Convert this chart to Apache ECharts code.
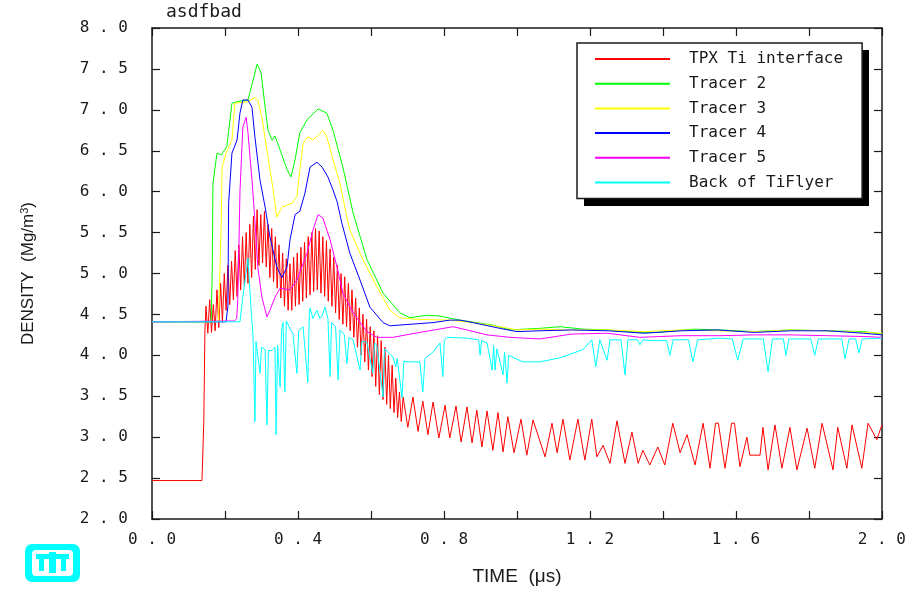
<!DOCTYPE html>
<html><head><meta charset="utf-8">
<script src="https://cdn.jsdelivr.net/npm/echarts@6/dist/echarts.min.js"></script>
<style>html,body{margin:0;padding:0;background:#fff}#c{width:909px;height:592px}</style>
</head><body><div id="c"></div>
<script>
// ---- data (time in microseconds, density in Mg/m^3) ----
const seriesNames = ['TPX Ti interface', 'Tracer 2', 'Tracer 3', 'Tracer 4', 'Tracer 5', 'Back of TiFlyer'];
const seriesColors = ['#ff0000', '#00ff00', '#ffff00', '#0000ff', '#ff00ff', '#00ffff'];

const tpxTi = [[0,2.47],[0.137,2.47],[0.142,3.2],[0.145,4.3],
[0.148,4.6],[0.153,4.27],[0.158,4.68],[0.163,4.28],[0.168,4.62],[0.173,4.3],[0.178,4.8],[0.183,4.34],[0.188,4.88],[0.193,4.4],
[0.198,5.0],[0.203,4.55],[0.208,5.1],[0.213,4.62],[0.218,5.15],[0.223,4.68],[0.228,5.28],[0.233,4.72],[0.238,5.35],[0.243,4.8],
[0.248,5.45],[0.253,4.85],[0.258,5.5],[0.263,4.88],[0.268,5.6],[0.273,4.95],[0.278,5.7],[0.283,5.05],[0.288,5.78],[0.293,5.1],
[0.298,5.72],[0.303,5.13],[0.308,5.76],[0.313,5.08],[0.318,5.6],[0.323,4.95],[0.328,5.55],[0.333,4.9],[0.338,5.45],[0.343,4.82],
[0.348,5.35],[0.353,4.7],[0.358,5.25],[0.363,4.6],[0.368,5.18],[0.373,4.55],[0.378,5.12],[0.383,4.55],[0.388,5.2],[0.393,4.6],
[0.398,5.25],[0.403,4.62],[0.408,5.32],[0.413,4.66],[0.418,5.38],[0.423,4.7],[0.428,5.45],[0.433,4.74],[0.438,5.5],[0.443,4.78],
[0.448,5.55],[0.453,4.8],[0.458,5.52],[0.463,4.76],[0.468,5.45],[0.473,4.72],[0.478,5.4],[0.483,4.66],[0.488,5.3],[0.493,4.6],
[0.498,5.2],[0.503,4.52],[0.508,5.1],[0.513,4.44],[0.518,5.0],[0.523,4.38],[0.528,4.96],[0.533,4.35],[0.538,4.88],[0.543,4.3],
[0.548,4.8],[0.553,4.22],[0.558,4.7],[0.563,4.1],[0.568,4.58],[0.573,4.0],[0.578,4.5],[0.583,3.92],[0.588,4.44],[0.593,3.82],
[0.598,4.35],[0.603,3.74],[0.608,4.3],[0.613,3.62],[0.618,4.24],[0.623,3.52],[0.628,4.18],[0.633,3.46],[0.638,4.1],[0.643,3.4],
[0.648,4.0],[0.653,3.35],[0.658,3.88],[0.663,3.3],[0.668,3.72],[0.673,3.24],[0.678,3.55],[0.683,3.19],
[0.688,3.49],[0.701,3.12],[0.715,3.49],[0.729,3.07],[0.742,3.44],[0.756,3.03],[0.770,3.43],[0.786,2.99],[0.803,3.39],[0.816,2.99],
[0.833,3.38],[0.847,2.94],[0.863,3.37],[0.877,2.93],[0.890,3.33],[0.904,2.88],[0.918,3.32],[0.934,2.84],[0.948,3.30],[0.962,2.82],
[0.975,3.25],[0.992,2.81],[1.011,3.22],[1.027,2.78],[1.044,3.21],[1.077,2.76],[1.096,3.17],[1.110,2.81],[1.126,3.22],[1.145,2.72],
[1.167,3.22],[1.186,2.72],[1.205,3.22],[1.219,2.76],[1.236,2.90],[1.255,2.68],[1.274,3.20],[1.296,2.68],[1.315,3.06],[1.332,2.68],
[1.345,2.84],[1.364,2.66],[1.386,2.88],[1.405,2.66],[1.427,3.17],[1.447,2.81],[1.466,3.03],[1.488,2.66],[1.510,3.17],[1.529,2.62],
[1.544,3.17],[1.552,3.17],[1.570,2.62],[1.588,3.17],[1.596,3.17],[1.611,2.64],[1.630,3.0],[1.638,2.78],[1.666,2.78],[1.674,3.12],
[1.688,2.60],[1.707,3.15],[1.726,2.62],[1.748,3.12],[1.767,2.60],[1.795,3.11],[1.816,2.62],[1.836,3.17],[1.866,2.60],[1.879,3.12],
[1.904,2.62],[1.918,3.15],[1.945,2.62],[1.962,3.17],[1.986,2.97],[2.0,3.15]];

const tracer2 = [[0,4.41],[0.162,4.41],[0.165,5.0],[0.167,6.1],[0.178,6.47],[0.19,6.45],[0.205,6.55],[0.219,7.08],[0.233,7.1],
[0.263,7.12],[0.277,7.36],[0.288,7.56],[0.299,7.45],[0.310,7.03],[0.318,6.75],[0.329,6.63],[0.337,6.68],[0.351,6.51],[0.370,6.27],
[0.381,6.18],[0.392,6.39],[0.405,6.72],[0.425,6.88],[0.455,7.01],[0.479,6.96],[0.496,6.75],[0.523,6.30],[0.551,5.74],[0.589,5.17],
[0.633,4.76],[0.679,4.52],[0.707,4.46],[0.753,4.49],[0.789,4.48],[0.844,4.43],[0.934,4.37],[0.981,4.31],[1.063,4.33],[1.118,4.35],
[1.181,4.32],[1.25,4.31],[1.337,4.28],[1.384,4.28],[1.482,4.32],[1.556,4.31],[1.65,4.29],[1.75,4.31],[1.85,4.30],[1.95,4.29],[2.0,4.26]];

const tracer3 = [[0,4.41],[0.182,4.41],[0.186,5.0],[0.19,5.69],[0.192,6.3],[0.203,6.47],[0.219,6.63],[0.227,7.08],[0.263,7.10],
[0.282,7.15],[0.29,7.12],[0.301,6.91],[0.318,6.42],[0.332,6.02],[0.342,5.69],[0.356,5.81],[0.384,5.86],[0.397,5.94],[0.405,6.26],
[0.414,6.59],[0.427,6.67],[0.441,6.63],[0.455,6.69],[0.468,6.75],[0.479,6.67],[0.496,6.39],[0.515,6.10],[0.534,5.69],[0.542,5.53],
[0.578,5.17],[0.616,4.84],[0.652,4.55],[0.679,4.46],[0.726,4.44],[0.816,4.43],[0.879,4.40],[0.953,4.35],[1.0,4.31],[1.063,4.32],
[1.15,4.31],[1.25,4.31],[1.35,4.29],[1.45,4.31],[1.55,4.30],[1.65,4.29],[1.75,4.31],[1.85,4.30],[1.95,4.28],[2.0,4.27]];

const tracer4 = [[0,4.41],[0.203,4.41],[0.208,4.6],[0.21,5.86],[0.219,6.47],[0.233,6.63],[0.241,6.96],[0.249,7.12],[0.263,7.12],
[0.274,7.03],[0.282,6.67],[0.296,6.14],[0.310,5.81],[0.323,5.45],[0.342,5.08],[0.356,4.95],[0.37,5.08],[0.378,5.41],[0.392,5.72],
[0.405,5.76],[0.419,5.98],[0.433,6.30],[0.452,6.36],[0.466,6.30],[0.482,6.18],[0.496,6.02],[0.507,5.88],[0.52,5.62],[0.542,5.25],
[0.57,4.92],[0.597,4.59],[0.633,4.40],[0.652,4.36],[0.679,4.37],[0.77,4.40],[0.816,4.43],[0.844,4.43],[0.879,4.40],[0.953,4.33],
[1.0,4.29],[1.063,4.30],[1.15,4.31],[1.25,4.30],[1.35,4.27],[1.45,4.30],[1.55,4.31],[1.65,4.28],[1.75,4.30],[1.85,4.30],[1.95,4.27],[2.0,4.25]];

const tracer5 = [[0,4.41],[0.226,4.42],[0.232,4.45],[0.235,4.68],[0.238,5.3],[0.241,6.0],[0.249,6.79],[0.258,6.91],[0.263,6.72],
[0.274,6.14],[0.282,5.65],[0.29,5.08],[0.301,4.71],[0.315,4.47],[0.323,4.55],[0.337,4.71],[0.351,4.82],[0.378,4.80],[0.397,4.92],
[0.425,5.25],[0.441,5.53],[0.455,5.72],[0.468,5.68],[0.488,5.41],[0.507,5.08],[0.523,4.76],[0.551,4.52],[0.589,4.29],[0.616,4.22],
[0.66,4.22],[0.734,4.28],[0.825,4.35],[0.863,4.31],[0.918,4.25],[0.981,4.22],[1.063,4.20],[1.15,4.26],[1.247,4.27],[1.337,4.22],
[1.45,4.24],[1.556,4.24],[1.65,4.25],[1.75,4.25],[1.85,4.24],[1.95,4.23],[2.0,4.22]];

const backTiFlyer = [[0,4.41],[0.241,4.41],[0.249,4.71],[0.263,5.19],[0.271,4.6],[0.277,4.22],[0.282,3.19],[0.285,4.17],[0.29,4.15],
[0.296,3.78],[0.3,4.1],[0.31,4.07],[0.315,3.15],[0.319,4.06],[0.329,4.06],[0.337,4.1],[0.34,3.03],[0.344,4.12],[0.351,3.61],[0.355,4.3],
[0.359,4.40],[0.364,3.55],[0.368,4.42],[0.373,4.43],[0.381,4.3],[0.386,4.27],[0.397,3.78],[0.402,4.3],[0.414,4.35],[0.427,3.67],
[0.431,4.5],[0.433,4.58],[0.441,4.45],[0.452,4.55],[0.46,4.45],[0.466,4.48],[0.474,4.59],[0.482,4.45],[0.488,3.74],[0.492,4.40],
[0.503,4.35],[0.51,3.70],[0.515,4.31],[0.527,4.25],[0.534,3.90],[0.54,4.22],[0.551,4.19],[0.57,3.82],[0.575,4.17],[0.589,4.16],
[0.605,3.78],[0.61,4.15],[0.616,4.12],[0.633,3.49],[0.637,4.08],[0.66,3.98],[0.668,3.86],[0.672,3.96],[0.685,3.48],[0.69,3.93],
[0.699,3.92],[0.734,3.92],[0.742,3.55],[0.748,3.96],[0.77,4.04],[0.789,4.15],[0.797,3.74],[0.801,4.18],[0.808,4.22],[0.863,4.21],
[0.895,4.19],[0.899,4.0],[0.903,4.18],[0.918,4.15],[0.932,3.82],[0.936,4.12],[0.94,3.82],[0.945,4.08],[0.962,3.76],[0.966,4.04],
[0.973,3.66],[0.977,4.0],[0.981,4.0],[1.016,3.92],[1.063,3.92],[1.118,3.97],[1.181,4.07],[1.205,4.19],[1.216,3.86],[1.227,4.19],
[1.247,3.94],[1.255,4.19],[1.285,4.19],[1.296,3.76],[1.304,4.19],[1.33,4.19],[1.337,4.13],[1.345,4.19],[1.364,4.18],[1.41,4.18],
[1.419,4.0],[1.428,4.19],[1.47,4.19],[1.482,3.92],[1.495,4.19],[1.556,4.21],[1.59,4.20],[1.605,3.94],[1.62,4.20],[1.675,4.20],
[1.688,3.80],[1.7,4.20],[1.73,4.20],[1.737,4.0],[1.745,4.20],[1.805,4.20],[1.816,4.0],[1.826,4.20],[1.89,4.20],[1.899,3.96],
[1.91,4.20],[1.928,4.20],[1.937,4.03],[1.946,4.20],[2.0,4.21]];

const allData = [tpxTi, tracer2, tracer3, tracer4, tracer5, backTiFlyer];

const xMin = 0, xMax = 2, xInterval = 0.2, xLabelEvery = 0.4;
const yMin = 2, yMax = 8, yInterval = 0.5;

// ---- chart ----
const chart = echarts.init(document.getElementById('c'), null, {renderer: 'canvas'});
const ink = '#1a1a1a';
const mono = 'DejaVu Sans Mono';
const spaced = v => v.toFixed(1).split('').join(' ');
const lineStyle = {color: ink, width: 1.5};
const tick = {show: true, inside: true, length: 8, lineStyle: {color: ink, width: 1.2}};

const option = {
  animation: false,
  backgroundColor: '#fff',
  title: {text: 'asdfbad', left: 166, top: 3, padding: 0,
    textStyle: {fontFamily: mono, fontSize: 18, fontWeight: 'normal', color: ink}},
  grid: {left: 152, right: 27, top: 28, bottom: 73},
  xAxis: [
    {type: 'value', position: 'bottom', min: xMin, max: xMax, interval: xInterval,
     axisLine: {show: true, onZero: false, lineStyle}, axisTick: tick, splitLine: {show: false},
     axisLabel: {margin: 13, fontFamily: mono, fontSize: 16, color: ink,
       formatter: v => (Math.round(v * 10) % Math.round(xLabelEvery * 10) === 0 ? spaced(v) : '')},
     name: 'TIME  (μs)', nameLocation: 'middle', nameGap: 48,
     nameTextStyle: {fontFamily: 'Liberation Sans', fontSize: 19, color: ink}},
    {type: 'value', position: 'top', min: xMin, max: xMax, interval: xInterval,
     axisLine: {show: true, onZero: false, lineStyle}, axisTick: tick, axisLabel: {show: false}, splitLine: {show: false}}
  ],
  yAxis: [
    {type: 'value', position: 'left', min: yMin, max: yMax, interval: yInterval,
     axisLine: {show: true, onZero: false, lineStyle}, axisTick: tick, splitLine: {show: false},
     axisLabel: {margin: 24, fontFamily: mono, fontSize: 16, color: ink, formatter: v => spaced(v)},
     name: 'DENSITY  (Mg/m{sup|3})', nameLocation: 'middle', nameGap: 114,
     nameTextStyle: {fontFamily: 'Liberation Sans', fontSize: 17, color: ink,
       rich: {sup: {fontFamily: 'Liberation Sans', fontSize: 11, verticalAlign: 'top', padding: [0, 0, 8, 0]}}}},
    {type: 'value', position: 'right', min: yMin, max: yMax, interval: yInterval,
     axisLine: {show: true, onZero: false, lineStyle}, axisTick: tick, axisLabel: {show: false}, splitLine: {show: false}}
  ],
  legend: {
    orient: 'vertical', left: 577, top: 43, padding: [8, 19, 8, 18],
    itemWidth: 75, itemHeight: 2, itemGap: 8.7, icon: 'rect',
    backgroundColor: '#fff', borderColor: ink, borderWidth: 1.5,
    textStyle: {fontFamily: mono, fontSize: 16, color: ink, lineHeight: 16, padding: [0, 0, 0, 14]},
    data: seriesNames
  },
  graphic: [
    {type: 'rect', left: 584, top: 50, z: -1, shape: {width: 285, height: 156}, style: {fill: '#000'}},
    {type: 'group', left: 25, top: 544, children: [
      {type: 'rect', shape: {x: 0, y: 0, width: 55, height: 38, r: 7}, style: {fill: '#00ffff'}},
      {type: 'rect', shape: {x: 7, y: 6, width: 41, height: 26, r: 4}, style: {fill: '#fff'}},
      {type: 'rect', shape: {x: 11, y: 10, width: 33, height: 5}, style: {fill: '#00ffff'}},
      {type: 'rect', shape: {x: 24, y: 8, width: 7, height: 21}, style: {fill: '#00ffff'}},
      {type: 'rect', shape: {x: 14, y: 15, width: 5, height: 12}, style: {fill: '#00ffff'}},
      {type: 'rect', shape: {x: 36, y: 15, width: 5, height: 12}, style: {fill: '#00ffff'}}
    ]}
  ],
  series: allData.map((d, i) => ({
    name: seriesNames[i], type: 'line', data: d, showSymbol: false, symbol: 'none',
    xAxisIndex: 0, yAxisIndex: 0, color: seriesColors[i],
    lineStyle: {color: seriesColors[i], width: 1}, emphasis: {disabled: true}
  }))
};
chart.setOption(option);
</script>
</body></html>
